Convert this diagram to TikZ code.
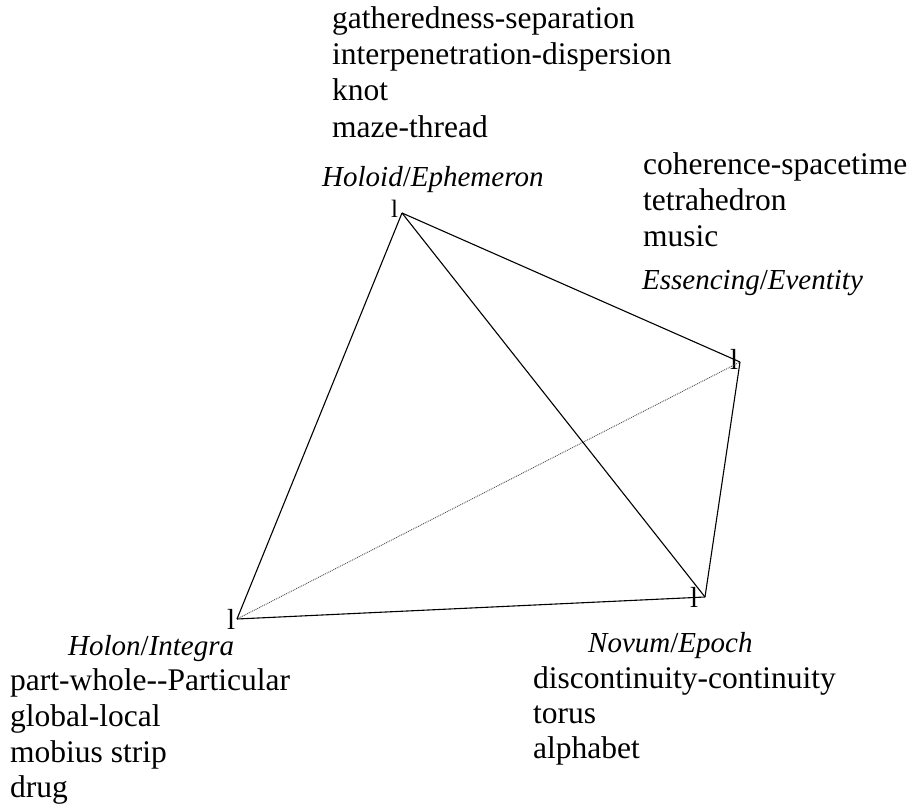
\documentclass[tikz,border=0pt]{standalone}
\usepackage{fontspec}
\setmainfont{Liberation Serif}
\tikzset{
  bodytext/.style={anchor=base west, inner sep=0pt, font=\fontsize{31.5}{36}\selectfont},
  labtext/.style={anchor=base west, inner sep=0pt, font=\fontsize{29}{34}\selectfont},
  vmark/.style={anchor=base west, inner sep=0pt, font=\fontsize{29}{34}\selectfont},
  conn/.style={line width=1.1pt, black},
  hidden/.style={line width=0.9pt, black!70, densely dotted}
}
\begin{document}
\begin{tikzpicture}[x=1pt,y=-1pt]
\useasboundingbox (0,0) rectangle (911,810);
% vertices
\coordinate (HO) at (402,213);
\coordinate (ES) at (740,362);
\coordinate (NV) at (705,597);
\coordinate (HN) at (237,619);
% l marks
\node[vmark, font=\fontsize{25}{30}\selectfont] (mHO) at (391,218) {l};
\node[vmark] (mES) at (730,370) {l};
\node[vmark] (mNV) at (690,607) {l};
\node[vmark] (mHN) at (227,629) {l};
% edges
\draw[hidden] (HN) -- (ES);
\draw[conn] (HO) -- (HN);
\draw[conn] (HO) -- (NV);
\draw[conn] (HO) -- (ES);
\draw[conn] (ES) -- (NV);
\draw[conn] (NV) -- (HN);
% Holoid
\node[labtext] (lHO) at (322,187) {\itshape Holoid\/\upshape/\itshape Ephemeron};
\node[bodytext] (a1) at (332,29) {gatheredness-separation};
\node[bodytext] (a2) at (332,65) {interpenetration-dispersion};
\node[bodytext] (a3) at (332,101) {knot};
\node[bodytext] (a4) at (332,138) {maze-thread};
% Essencing
\node[labtext] (lES) at (642,290) {\itshape Essencing\/\upshape/\itshape Eventity};
\node[bodytext] (b1) at (643,175) {coherence-spacetime};
\node[bodytext] (b2) at (643,211) {tetrahedron};
\node[bodytext] (b3) at (643,247) {music};
% Holon
\node[labtext] (lHN) at (68,655) {\itshape Holon\/\upshape/\itshape Integra};
\node[bodytext] (c1) at (10,690) {part-whole-{}-Particular};
\node[bodytext] (c2) at (10,726) {global-local};
\node[bodytext] (c3) at (10,762) {mobius strip};
\node[bodytext] (c4) at (10,797) {drug};
% Novum
\node[labtext] (lNV) at (588,652) {\itshape Novum\/\upshape/\itshape Epoch};
\node[bodytext] (d1) at (533,688) {discontinuity-continuity};
\node[bodytext] (d2) at (533,723) {torus};
\node[bodytext] (d3) at (533,758) {alphabet};
\end{tikzpicture}
\end{document}
